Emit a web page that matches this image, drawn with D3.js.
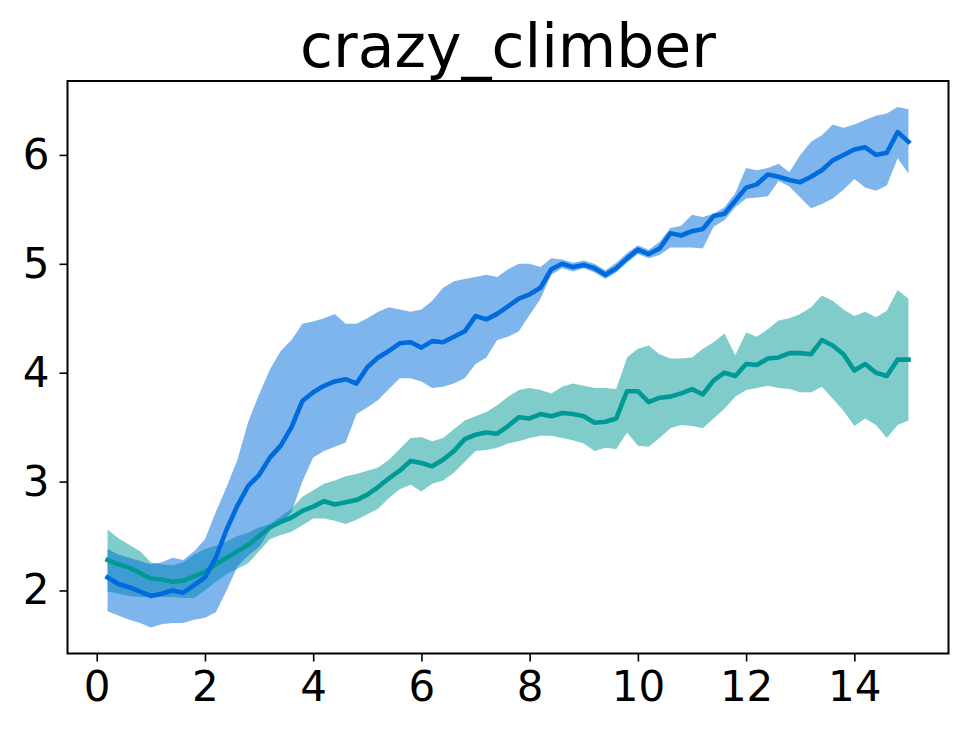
<!DOCTYPE html>
<html>
<head>
<meta charset="utf-8">
<script src="https://cdn.jsdelivr.net/npm/d3@7"></script>
<style>
  html, body { margin: 0; padding: 0; background: #fff; }
  svg { display: block; font-family: "DejaVu Sans", sans-serif; }
</style>
</head>
<body>
<svg id="chart" width="968" height="737"></svg>
<script>
const title = "crazy_climber";
const xs = [0.2,0.4,0.6,0.8,1.0,1.2,1.4,1.6,1.8,2.0,2.2,2.4,2.6,2.8,3.0,3.2,3.4,3.6,3.8,4.0,4.2,4.4,4.6,4.8,5.0,5.2,5.4,5.6,5.8,6.0,6.2,6.4,6.6,6.8,7.0,7.2,7.4,7.6,7.8,8.0,8.2,8.4,8.6,8.8,9.0,9.2,9.4,9.6,9.8,10.0,10.2,10.4,10.6,10.8,11.0,11.2,11.4,11.6,11.8,12.0,12.2,12.4,12.6,12.8,13.0,13.2,13.4,13.6,13.8,14.0,14.2,14.4,14.6,14.8,15.0];

const blueMean = [2.12,2.06,2.03,1.99,1.95,1.97,2.00,1.98,2.05,2.12,2.30,2.56,2.78,2.96,3.06,3.22,3.33,3.50,3.74,3.82,3.88,3.92,3.94,3.90,4.05,4.14,4.20,4.27,4.28,4.23,4.29,4.28,4.33,4.38,4.52,4.49,4.54,4.61,4.68,4.72,4.78,4.95,5.00,4.97,4.99,4.96,4.90,4.96,5.05,5.13,5.09,5.14,5.28,5.26,5.30,5.32,5.44,5.46,5.58,5.70,5.73,5.82,5.80,5.77,5.75,5.80,5.86,5.95,6.00,6.05,6.07,6.00,6.02,6.21,6.12];
const blueLow = [1.81,1.77,1.73,1.70,1.66,1.69,1.70,1.70,1.73,1.75,1.80,2.00,2.22,2.32,2.40,2.55,2.62,2.72,3.00,3.22,3.28,3.32,3.36,3.62,3.68,3.75,3.85,3.95,3.95,3.92,3.86,3.87,3.90,3.95,4.08,4.14,4.30,4.33,4.38,4.53,4.68,4.90,4.96,4.93,4.96,4.92,4.86,4.92,5.01,5.09,5.05,5.08,5.15,5.15,5.15,5.14,5.34,5.40,5.52,5.60,5.61,5.62,5.76,5.71,5.61,5.51,5.55,5.60,5.68,5.78,5.70,5.67,5.72,5.97,5.83];
const blueHigh = [2.38,2.33,2.30,2.27,2.24,2.26,2.30,2.28,2.36,2.47,2.72,2.95,3.20,3.55,3.80,4.03,4.20,4.30,4.45,4.47,4.50,4.54,4.45,4.45,4.50,4.56,4.60,4.58,4.56,4.58,4.66,4.78,4.84,4.86,4.88,4.90,4.88,4.95,5.00,5.00,4.97,5.05,5.04,5.01,5.03,5.00,4.94,5.01,5.10,5.17,5.13,5.20,5.33,5.35,5.45,5.43,5.46,5.52,5.65,5.88,5.86,5.88,5.92,5.84,6.00,6.12,6.18,6.28,6.25,6.28,6.32,6.36,6.38,6.44,6.42];

const tealMean = [2.28,2.24,2.21,2.16,2.11,2.10,2.08,2.09,2.13,2.17,2.24,2.30,2.36,2.42,2.50,2.58,2.63,2.67,2.73,2.77,2.82,2.79,2.81,2.83,2.88,2.95,3.03,3.10,3.19,3.17,3.14,3.20,3.28,3.39,3.43,3.45,3.44,3.51,3.59,3.58,3.62,3.60,3.63,3.62,3.60,3.54,3.55,3.58,3.83,3.83,3.73,3.77,3.78,3.81,3.85,3.80,3.93,4.00,3.97,4.08,4.07,4.13,4.14,4.18,4.18,4.17,4.30,4.25,4.17,4.02,4.08,4.00,3.97,4.12,4.12];
const tealLow = [1.99,1.97,1.95,1.94,1.94,1.94,1.94,1.93,1.93,2.00,2.08,2.15,2.20,2.25,2.36,2.47,2.51,2.54,2.60,2.66,2.66,2.64,2.61,2.65,2.70,2.75,2.85,2.93,2.97,2.91,2.98,3.01,3.08,3.18,3.28,3.29,3.31,3.35,3.37,3.40,3.42,3.42,3.40,3.38,3.35,3.28,3.31,3.30,3.45,3.33,3.32,3.40,3.49,3.52,3.51,3.49,3.58,3.67,3.78,3.84,3.86,3.88,3.86,3.85,3.82,3.82,3.87,3.76,3.65,3.51,3.58,3.52,3.40,3.52,3.56];
const tealHigh = [2.56,2.48,2.42,2.36,2.26,2.24,2.23,2.26,2.33,2.38,2.41,2.45,2.50,2.53,2.58,2.61,2.68,2.75,2.86,2.92,2.98,3.01,3.05,3.07,3.10,3.13,3.20,3.30,3.40,3.41,3.37,3.40,3.48,3.56,3.60,3.64,3.70,3.78,3.84,3.86,3.84,3.81,3.87,3.90,3.88,3.86,3.86,3.85,4.14,4.22,4.25,4.17,4.13,4.13,4.14,4.22,4.28,4.36,4.16,4.37,4.33,4.40,4.48,4.50,4.54,4.60,4.71,4.66,4.58,4.52,4.56,4.51,4.57,4.76,4.68];

const xTicks = [0, 2, 4, 6, 8, 10, 12, 14];
const yTicks = [2, 3, 4, 5, 6];

const series = [
  { name: "teal", mean: tealMean, low: tealLow, high: tealHigh, line: "#009a96", fill: "#009a96" },
  { name: "blue", mean: blueMean, low: blueLow, high: blueHigh, line: "#006bdc", fill: "#006bdc" }
];

const L = 67.5, R = 948.5, T = 81, B = 653.5;

const xMin = d3.min(xs), xMax = d3.max(xs);
const xPad = (xMax - xMin) * 0.05;
const x = d3.scaleLinear().domain([xMin - xPad, xMax + xPad]).range([L, R]);

const allY = [].concat(blueLow, blueHigh, tealLow, tealHigh, blueMean, tealMean);
const yMin = d3.min(allY), yMax = d3.max(allY);
const yPad = (yMax - yMin) * 0.05;
const y = d3.scaleLinear().domain([yMin - yPad, yMax + yPad]).range([B, T]);

const svg = d3.select("#chart");
const g = svg.append("g");

const area = (s) => d3.area()
  .x((d, i) => x(xs[i]))
  .y0((d, i) => y(s.low[i]))
  .y1((d, i) => y(s.high[i]));
const line = (s) => d3.line()
  .x((d, i) => x(xs[i]))
  .y((d, i) => y(s.mean[i]));

series.forEach(s => {
  g.append("path")
    .attr("d", area(s)(xs))
    .attr("fill", s.fill)
    .attr("fill-opacity", 0.5)
    .attr("stroke", "none");
});
series.forEach(s => {
  g.append("path")
    .attr("d", line(s)(xs))
    .attr("fill", "none")
    .attr("stroke", s.line)
    .attr("stroke-width", 4.6)
    .attr("stroke-linejoin", "round")
    .attr("stroke-linecap", "square");
});

const xAxis = d3.axisBottom(x).tickValues(xTicks).tickFormat(d3.format("d")).tickSizeOuter(0).tickSize(8).tickPadding(10);
const yAxis = d3.axisLeft(y).tickValues(yTicks).tickFormat(d3.format("d")).tickSizeOuter(0).tickSize(8).tickPadding(10);

const gx = svg.append("g").attr("transform", `translate(0,${B})`).call(xAxis);
const gy = svg.append("g").attr("transform", `translate(${L},0)`).call(yAxis);
[gx, gy].forEach(a => {
  a.select(".domain").remove();
  a.selectAll(".tick line").attr("stroke", "#000").attr("stroke-width", 1.6);
  a.selectAll(".tick text")
    .attr("fill", "#000")
    .style("font-family", "'DejaVu Sans', sans-serif")
    .style("font-size", "42px");
});

svg.append("rect")
  .attr("x", L).attr("y", T)
  .attr("width", R - L).attr("height", B - T)
  .attr("fill", "none")
  .attr("stroke", "#000")
  .attr("stroke-width", 2);

svg.append("text")
  .attr("x", (L + R) / 2)
  .attr("y", 67)
  .attr("text-anchor", "middle")
  .style("font-family", "'DejaVu Sans', sans-serif")
  .style("font-size", "60px")
  .attr("fill", "#000")
  .text(title);
</script>
</body>
</html>
